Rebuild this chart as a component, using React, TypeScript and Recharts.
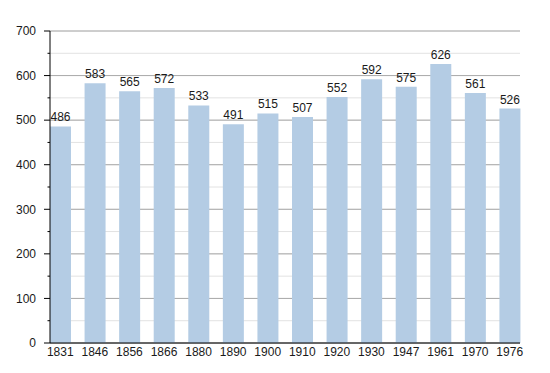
import React from 'react';
import { BarChart, Bar, XAxis, YAxis, CartesianGrid, LabelList } from 'recharts';

const years = ['1831', '1846', '1856', '1866', '1880', '1890', '1900', '1910', '1920', '1930', '1947', '1961', '1970', '1976'];
const population = [486, 583, 565, 572, 533, 491, 515, 507, 552, 592, 575, 626, 561, 526];
const yTicks = [0, 50, 100, 150, 200, 250, 300, 350, 400, 450, 500, 550, 600, 650, 700];
const majorTicks = [0, 100, 200, 300, 400, 500, 600, 700];

const data = years.map((y, i) => ({ year: y, value: population[i] }));

const FONT = '"Liberation Sans Narrow", "Arial Narrow", "Liberation Sans", Arial, sans-serif';
const TICK_MARGIN = 8;
const TICK_SIZE = 6;

const YTick = (props: any) => {
  const { x, y, payload } = props;
  const major = payload.value % 100 === 0;
  const axisX = x + TICK_MARGIN + TICK_SIZE;
  return (
    <g>
      <line x1={axisX - (major ? TICK_SIZE : 2.5)} x2={axisX} y1={y} y2={y} stroke="#000" strokeWidth={1} />
      {major && (
        <text x={x} y={y} dy="0.355em" textAnchor="end" fontSize={12} fill="#1a1a1a" fontFamily={FONT}>
          {payload.value}
        </text>
      )}
    </g>
  );
};

const TopLabel = (props: any) => {
  const { x, y, width, value } = props;
  return (
    <text x={x + width / 2} y={y - 5} textAnchor="middle" fontSize={12} fill="#1a1a1a" fontFamily={FONT}>
      {value}
    </text>
  );
};

export default function App() {
  return (
    <div style={{ position: 'absolute', left: 0, top: 0 }}>
      <BarChart
        width={550}
        height={373}
        data={data}
        margin={{ top: 31, right: 30, bottom: 10, left: 0 }}
      >
        <CartesianGrid vertical={false} horizontalValues={yTicks} stroke="#e2e2e2" />
        <CartesianGrid vertical={false} horizontalValues={majorTicks} stroke="#aaaaaa" />
        <XAxis
          dataKey="year"
          tickLine={false}
          axisLine={{ stroke: '#000' }}
          tickSize={4}
          tickMargin={0}
          height={20}
          padding={{ left: -7, right: -7 }}
          interval={0}
          tick={{ fontSize: 12, fill: '#1a1a1a', fontFamily: FONT }}
        />
        <YAxis
          domain={[0, 700]}
          ticks={yTicks}
          interval={0}
          width={50}
          tickLine={false}
          tickSize={TICK_SIZE}
          tickMargin={TICK_MARGIN}
          axisLine={{ stroke: '#000' }}
          tick={<YTick />}
        />
        <Bar dataKey="value" fill="#b4cce4" barSize={21} isAnimationActive={false}>
          <LabelList dataKey="value" content={<TopLabel />} />
        </Bar>
      </BarChart>
    </div>
  );
}
